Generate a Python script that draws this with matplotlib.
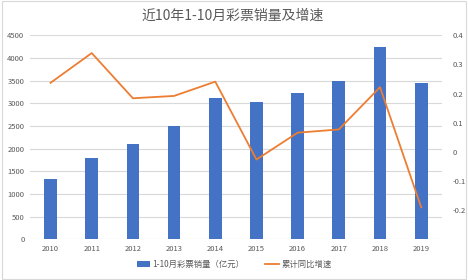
import matplotlib
matplotlib.use("Agg")
import matplotlib.pyplot as plt
from matplotlib.ticker import MultipleLocator, FixedLocator, FixedFormatter

plt.rcParams['font.family'] = ['Noto Sans CJK SC', 'DejaVu Sans']

years = ['2010', '2011', '2012', '2013', '2014', '2015', '2016', '2017', '2018', '2019']
sales = [1330, 1787, 2102, 2499, 3110, 3028, 3234, 3492, 4249, 3441]
growth = [0.237, 0.339, 0.184, 0.192, 0.241, -0.026, 0.066, 0.077, 0.222, -0.19]

title = '近10年1-10月彩票销量及增速'
bar_label = '1-10月彩票销量（亿元）'
line_label = '累计同比增速'

text_color = '#595959'
fig = plt.figure(figsize=(4.68, 2.8), dpi=100)
fig.patches.append(plt.Rectangle((0.004, 0.004), 0.992, 0.992, transform=fig.transFigure,
                                 fill=False, edgecolor='#D9D9D9', linewidth=0.8))
ax = fig.add_axes([0.064, 0.145, 0.88, 0.729])
x = list(range(len(years)))
bars = ax.bar(x, sales, width=0.31, color='#4472C4', label=bar_label, zorder=2)
ax.set_xlim(-0.5, len(years) - 0.5)
ax.set_ylim(0, 4500)
ax.yaxis.set_major_locator(MultipleLocator(500))
ax.set_xticks(x)
ax.set_xticklabels(years)
ax.grid(axis='y', color='#D9D9D9', linewidth=0.8, zorder=0)
ax.set_axisbelow(True)
for s in ax.spines.values():
    s.set_visible(False)
ax.tick_params(axis='both', length=0, labelsize=5.5, colors=text_color, pad=4)

ax2 = ax.twinx()
line, = ax2.plot(x, growth, color='#ED7D31', linewidth=1.3, label=line_label, zorder=3)
ax2.set_ylim(-0.3, 0.4)
rt = [-0.3, -0.2, -0.1, 0, 0.1, 0.2, 0.3, 0.4]
ax2.yaxis.set_major_locator(FixedLocator(rt))
ax2.yaxis.set_major_formatter(FixedFormatter(['', '-0.2', '-0.1', '0', '0.1', '0.2', '0.3', '0.4']))
for s in ax2.spines.values():
    s.set_visible(False)
ax2.tick_params(axis='both', length=0, labelsize=5.5, colors=text_color, pad=8)

fig.text(0.498, 0.945, title, ha='center', va='center', fontsize=10, color=text_color)
fig.legend([bars, line], [bar_label, line_label], loc='center', bbox_to_anchor=(0.5, 0.055),
           ncol=2, frameon=False, fontsize=6, labelcolor=text_color,
           handlelength=1.6, handletextpad=0.3, columnspacing=2.5)

fig.savefig('out.png', dpi=100)
